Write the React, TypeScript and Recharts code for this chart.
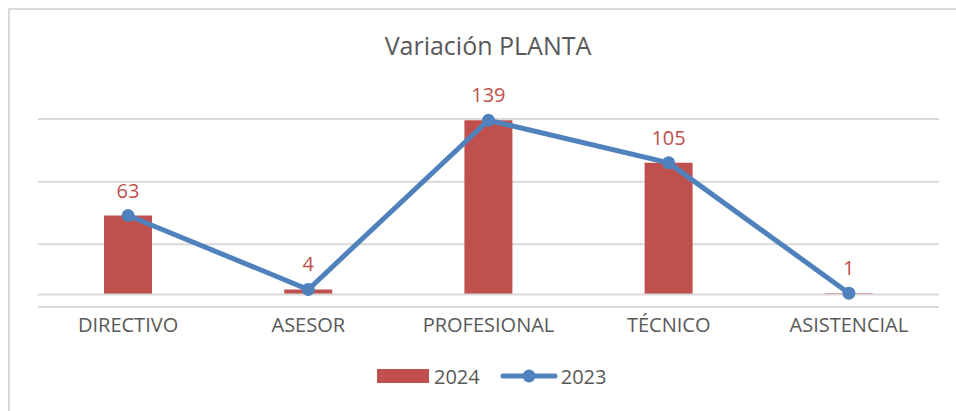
import React from "react"
import {
  ComposedChart, Bar, Line, XAxis, YAxis, CartesianGrid, ReferenceLine, LabelList,
} from "recharts"

// datos
const categorias = ["DIRECTIVO", "ASESOR", "PROFESIONAL", "TÉCNICO", "ASISTENCIAL"]
const valores2024 = [63, 4, 139, 105, 1]
const valores2023 = [63, 4, 139, 105, 1]
const ticksY = [-10, 40, 90, 140]

const data = categorias.map((c, i) => ({ cat: c, v2024: valores2024[i], v2023: valores2023[i] }))

const FONT = "'Open Sans', 'Noto Sans', sans-serif"
const GRIS = "#595959"
const ROJO = "#C0504D"
const AZUL = "#4F81BD"

export default function App() {
  return (
    <div style={{ position: "fixed", left: 0, top: 0, width: 956, height: 411, overflow: "hidden", background: "#fff", fontFamily: FONT }}>
      <div style={{ position: "absolute", left: 8, top: 8, width: 960, height: 420, borderTop: "2px solid #d9d9d9", borderLeft: "2px solid #d9d9d9" }} />
      <div style={{ position: "absolute", left: 0, top: 27, width: 976, textAlign: "center", fontSize: 25, color: GRIS, lineHeight: "36px" }}>
        Variación PLANTA
      </div>
      <div style={{ position: "absolute", left: 0, top: 0 }}>
        <ComposedChart width={956} height={411} data={data} margin={{ top: 119, right: 17, bottom: 74, left: 38 }}>
          <CartesianGrid vertical={false} stroke="#d9d9d9" strokeWidth={2} />
          <ReferenceLine y={0} stroke="#d9d9d9" strokeWidth={2} />
          <XAxis dataKey="cat" axisLine={false} tickLine={false} tickSize={6} tickMargin={5} interval={0}
            height={30} tick={{ fontSize: 20, fill: GRIS, fontFamily: FONT }} />
          <YAxis hide domain={[-10, 140]} ticks={ticksY} type="number" />
          <Bar dataKey="v2024" fill={ROJO} barSize={48} isAnimationActive={false}>
            <LabelList dataKey="v2024" position="top" offset={18} fill={ROJO} fontSize={20} fontFamily={FONT} />
          </Bar>
          <Line type="linear" dataKey="v2023" stroke={AZUL} strokeWidth={5}
            dot={{ r: 6.5, fill: AZUL, stroke: AZUL, strokeWidth: 0 }} activeDot={false} isAnimationActive={false} />
        </ComposedChart>
      </div>
      <div style={{ position: "absolute", left: 377, top: 362, height: 28, display: "flex", alignItems: "center", fontSize: 20, color: GRIS }}>
        <span style={{ display: "inline-block", width: 52, height: 14, background: ROJO }} />
        <span style={{ marginLeft: 5 }}>2024</span>
        <svg width={58} height={20} style={{ marginLeft: 20 }}>
          <line x1={3} y1={10} x2={55} y2={10} stroke={AZUL} strokeWidth={5} strokeLinecap="round" />
          <circle cx={29} cy={10} r={6.5} fill={AZUL} />
        </svg>
        <span style={{ marginLeft: 3 }}>2023</span>
      </div>
    </div>
  )
}
